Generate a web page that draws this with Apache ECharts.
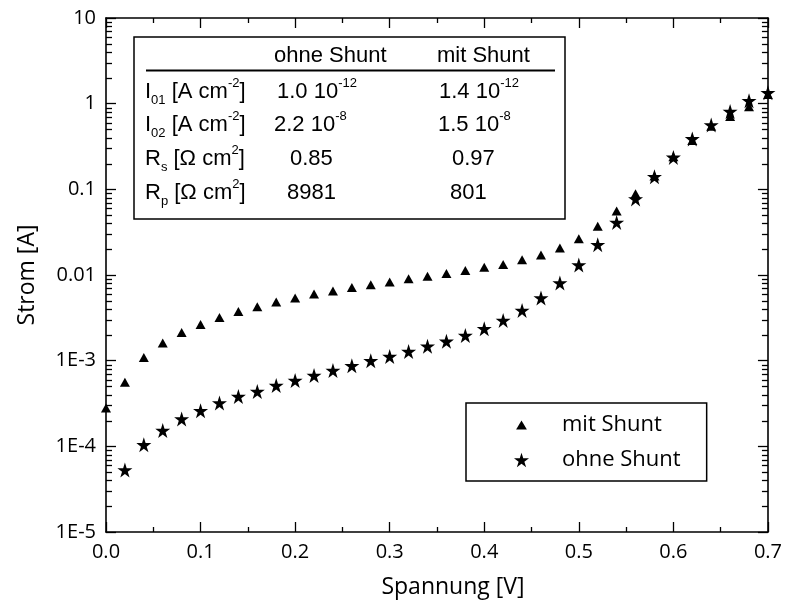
<!DOCTYPE html>
<html>
<head>
<meta charset="utf-8">
<script src="https://cdn.jsdelivr.net/npm/echarts@6/dist/echarts.min.js"></script>
<style>
  html, body { margin: 0; padding: 0; background: #fff; }
  #chart { width: 785px; height: 607px; }
</style>
</head>
<body>
<div id="chart"></div>
<script>
// Voltage steps of the I-V sweep [V]
const voltage = [0.00, 0.02, 0.04, 0.06, 0.08, 0.10, 0.12, 0.14, 0.16, 0.18,
                 0.20, 0.22, 0.24, 0.26, 0.28, 0.30, 0.32, 0.34, 0.36, 0.38,
                 0.40, 0.42, 0.44, 0.46, 0.48, 0.50, 0.52, 0.54, 0.56, 0.58,
                 0.60, 0.62, 0.64, 0.66, 0.68, 0.70];

// Current with shunt [A]
const mitShunt = [2.8e-4, 5.6e-4, 1.09e-3, 1.61e-3, 2.13e-3, 2.65e-3, 3.2e-3, 3.76e-3, 4.26e-3, 4.84e-3,
                  5.38e-3, 6.0e-3, 6.5e-3, 7.16e-3, 7.7e-3, 8.28e-3, 9.06e-3, 9.64e-3, 1.04e-2, 1.13e-2,
                  1.23e-2, 1.33e-2, 1.51e-2, 1.71e-2, 2.07e-2, 2.65e-2, 3.7e-2, 5.6e-2, 8.9e-2, 0.143,
                  0.24, 0.371, 0.545, 0.71, 0.92, 1.28];

// Current without shunt [A] (first step below the plotted range)
const ohneShunt = ['-', 5.3e-5, 1.04e-4, 1.53e-4, 2.08e-4, 2.6e-4, 3.2e-4, 3.82e-4, 4.37e-4, 5.13e-4,
                   5.87e-4, 6.71e-4, 7.69e-4, 8.72e-4, 9.97e-4, 1.12e-3, 1.28e-3, 1.47e-3, 1.68e-3, 1.97e-3,
                   2.36e-3, 2.95e-3, 3.86e-3, 5.38e-3, 8.07e-3, 1.31e-2, 2.26e-2, 4.11e-2, 7.73e-2, 0.14,
                   0.236, 0.388, 0.565, 0.81, 1.08, 1.34];

// Decade labels of the current axis, from 1E-5 up to 10
const yTickLabels = ['1E-5', '1E-4', '1E-3', '0.01', '0.1', '1', '10'];
const yMinExp = -5;
const minorSteps = [2, 3, 4, 5, 6, 7, 8, 9];

// Fit parameter table
const tableHeader = ['ohne Shunt', 'mit Shunt'];
const paramLabels = [
  '{t|I}{s|01}{t| [A cm}{p|-2}{t|]}',
  '{t|I}{s|02}{t| [A cm}{p|-2}{t|]}',
  '{t|R}{s|s}{t| [\u03A9 cm}{p|2}{t|]}',
  '{t|R}{s|p}{t| [\u03A9 cm}{p|2}{t|]}'
];
const ohneValues = ['{t|1.0 10}{p|-12}', '{t|2.2 10}{p|-8}', '{t|0.85}', '{t|8981}'];
const mitValues  = ['{t|1.4 10}{p|-12}', '{t|1.5 10}{p|-8}', '{t|0.97}', '{t|801}'];

const seriesNames = ['mit Shunt', 'ohne Shunt'];

const STAR = 'path://M50,0 L61.2,34.5 L97.6,34.5 L68.2,55.9 L79.4,90.5 L50,69.1 L20.6,90.5 L31.8,55.9 L2.4,34.5 L38.8,34.5 Z';
// legend triangle: the leading moves widen the icon box so the drawn triangle stays small
const LEGEND_TRIANGLE = 'path://M0,0 M100,100 M50,20 L86,80 L14,80 Z';

const AXIS_FONT = 'Open Sans';
const TABLE_FONT = 'Liberation Sans';

const chart = echarts.init(document.getElementById('chart'), null, { renderer: 'canvas' });

const richTable = {
  t: { fontSize: 22, fontFamily: TABLE_FONT, lineHeight: 30, fill: '#000' },
  s: { fontSize: 13, fontFamily: TABLE_FONT, lineHeight: 13, verticalAlign: 'bottom', fill: '#000' },
  p: { fontSize: 13, fontFamily: TABLE_FONT, lineHeight: 13, verticalAlign: 'top', fill: '#000' }
};

const rowY = [92, 125, 159, 193];
const labelX = 145;
const ohneX = [277, 274, 290, 287];
const mitX = [439, 438, 452, 450];

function richText(x, y, text) {
  return {
    type: 'text', x: x, y: y, z: 10,
    style: { text: text, rich: richTable, align: 'left', verticalAlign: 'middle' }
  };
}

const tableElements = [
  { type: 'rect', z: 10, shape: { x: 134, y: 37, width: 431, height: 182 },
    style: { fill: '#fff', stroke: '#000', lineWidth: 1.5 } },
  { type: 'line', z: 10, shape: { x1: 146, y1: 70.5, x2: 555, y2: 70.5 },
    style: { stroke: '#000', lineWidth: 2 } },
  { type: 'text', z: 10, x: 274, y: 56,
    style: { text: tableHeader[0], fontSize: 22, fontFamily: TABLE_FONT, fill: '#000', align: 'left', verticalAlign: 'middle' } },
  { type: 'text', z: 10, x: 437, y: 56,
    style: { text: tableHeader[1], fontSize: 22, fontFamily: TABLE_FONT, fill: '#000', align: 'left', verticalAlign: 'middle' } }
];
paramLabels.forEach(function (lbl, i) {
  tableElements.push(richText(labelX, rowY[i], lbl));
  tableElements.push(richText(ohneX[i], rowY[i], ohneValues[i]));
  tableElements.push(richText(mitX[i], rowY[i], mitValues[i]));
});

const axisLineStyle = { color: '#000', width: 1.6 };

function xAxisBase(pos, showLabels) {
  return {
    type: 'value', position: pos, min: 0, max: 0.7, interval: 0.1,
    axisLine: { show: true, onZero: false, lineStyle: axisLineStyle },
    axisTick: { show: true, inside: true, length: 10, lineStyle: { color: '#000', width: 1.3 } },
    minorTick: { show: true, splitNumber: 2, length: 5, lineStyle: { color: '#000', width: 1.3 } },
    splitLine: { show: false },
    axisLabel: {
      show: showLabels, margin: 10, fontSize: 20, fontFamily: AXIS_FONT, color: '#000',
      formatter: function (v) { return v.toFixed(1); }
    }
  };
}

function yAxisBase(pos, showLabels) {
  return {
    type: 'log', position: pos, logBase: 10, min: 1e-5, max: 10,
    axisLine: { show: true, onZero: false, lineStyle: axisLineStyle },
    axisTick: { show: true, inside: true, length: 10, lineStyle: { color: '#000', width: 1.3 } },
    splitLine: { show: false },
    axisLabel: {
      show: showLabels, margin: 10, fontSize: 20, fontFamily: AXIS_FONT, color: '#000',
      formatter: function (v) {
        const e = Math.round(Math.log10(v));
        return yTickLabels[e - yMinExp];
      }
    }
  };
}

const xBottom = xAxisBase('bottom', true);
xBottom.name = 'Spannung [V]';
xBottom.nameLocation = 'middle';
xBottom.nameGap = 44;
xBottom.nameTextStyle = { fontSize: 23, fontFamily: AXIS_FONT, color: '#000', padding: [0, 0, 0, 32] };

const yLeft = yAxisBase('left', true);
yLeft.name = 'Strom [A]';
yLeft.nameLocation = 'middle';
yLeft.nameGap = 67;
yLeft.nameTextStyle = { fontSize: 23, fontFamily: AXIS_FONT, color: '#000' };

const option = {
  animation: false,
  backgroundColor: '#fff',
  grid: { left: 106, right: 15, top: 18, bottom: 75, containLabel: false },
  xAxis: [xBottom, xAxisBase('top', false)],
  yAxis: [yLeft, yAxisBase('right', false)],
  legend: {
    left: 466, top: 403, orient: 'vertical',
    borderColor: '#000', borderWidth: 1.5, borderRadius: 0,
    padding: [10, 26, 9, 48],
    itemWidth: 15, itemHeight: 15, itemGap: 11,
    textStyle: { fontSize: 22, fontFamily: AXIS_FONT, color: '#000', lineHeight: 24, padding: [0, 0, 0, 28] },
    data: [
      { name: seriesNames[0], icon: LEGEND_TRIANGLE, itemStyle: { color: '#000', opacity: 1 } },
      { name: seriesNames[1], icon: STAR, itemStyle: { color: '#000', opacity: 1 } }
    ]
  },
  graphic: { elements: tableElements },
  series: [
    {
      // logarithmic minor ticks on both vertical frame sides
      type: 'custom', xAxisIndex: 0, yAxisIndex: 0, silent: true, z: 5, clip: false,
      data: [0],
      renderItem: function (params, api) {
        const cs = params.coordSys;
        const children = [];
        for (let e = yMinExp; e < yMinExp + yTickLabels.length - 1; e++) {
          minorSteps.forEach(function (k) {
            const y = Math.round(api.coord([0, k * Math.pow(10, e)])[1]) + 0.5;
            children.push({ type: 'line', shape: { x1: cs.x, y1: y, x2: cs.x + 6, y2: y },
              style: { stroke: '#000', lineWidth: 1.3 } });
            children.push({ type: 'line', shape: { x1: cs.x + cs.width - 6, y1: y, x2: cs.x + cs.width, y2: y },
              style: { stroke: '#000', lineWidth: 1.3 } });
          });
        }
        return { type: 'group', children: children };
      }
    },
    {
      name: seriesNames[0], type: 'scatter', xAxisIndex: 0, yAxisIndex: 0, clip: true,
      symbol: 'triangle', symbolSize: [10, 9],
      itemStyle: { color: '#000', opacity: 1 },
      data: voltage.map(function (v, i) { return [v, mitShunt[i]]; })
    },
    {
      name: seriesNames[1], type: 'scatter', xAxisIndex: 0, yAxisIndex: 0, clip: true,
      symbol: STAR, symbolSize: 15,
      itemStyle: { color: '#000', opacity: 1 },
      data: voltage.map(function (v, i) { return [v, ohneShunt[i]]; })
    }
  ]
};

chart.setOption(option);
</script>
</body>
</html>
